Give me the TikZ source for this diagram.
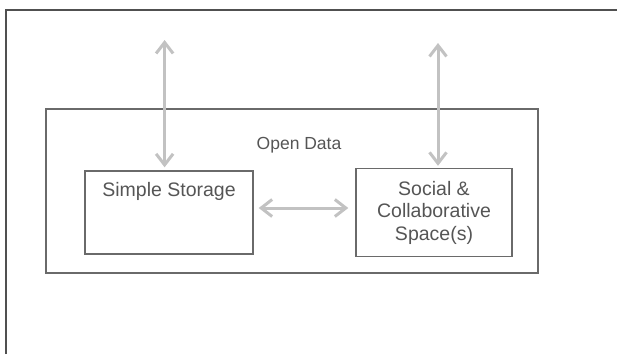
\documentclass[tikz,border=0pt]{standalone}
\usepackage{fontspec}
\setmainfont{Liberation Sans}
\usetikzlibrary{arrows.meta, positioning}
\definecolor{framegray}{HTML}{6A6A6A}
\definecolor{bordergray}{HTML}{505050}
\definecolor{arrowgray}{HTML}{C2C2C2}
\definecolor{txtgray}{HTML}{555555}

\begin{document}
\begin{tikzpicture}[x=1pt, y=-1pt, line width=1.4pt, >={Straight Barb[length=11pt,width=17pt]}, box/.style={draw=framegray, rectangle, text=txtgray, font=\fontsize{19.5}{22.5}\selectfont}, boxtext/.style={text=txtgray, font=\fontsize{19.5}{22.5}\selectfont}, link/.style={<->, draw=arrowgray, line width=3pt}]
\useasboundingbox (0,0) rectangle (617,354);
\draw[bordergray, line width=2pt] (6,354) -- (6,10) -- (617,10);
\node[box, minimum width=492pt, minimum height=164pt] (opendata) at (292,191) {};
\node[boxtext, font=\fontsize{17.5}{20}\selectfont] (opendatatext) at (299,145) {Open Data};
\node[box, minimum width=168pt, minimum height=83pt] (storage) at (169,212.5) {};
\node[boxtext] (storagetext) [below=8pt of storage.north] {Simple Storage};
\node[box, minimum width=156pt, minimum height=88pt, align=center] (social) at (434,212.5) {Social \&\\Collaborative\\Space(s)};
\coordinate (storagetop) at (164.6,40);
\coordinate (socialtop) at (438,43);
\draw[link, shorten >=3pt] (storagetop) -- (storagetop |- storage.north);
\draw[link, shorten >=2pt] (socialtop) -- (socialtop |- social.north);
\draw[link, shorten <=5pt, shorten >=7pt] ([yshift=4.5pt]storage.east) -- ([yshift=4.5pt]social.west);
\end{tikzpicture}
\end{document}
